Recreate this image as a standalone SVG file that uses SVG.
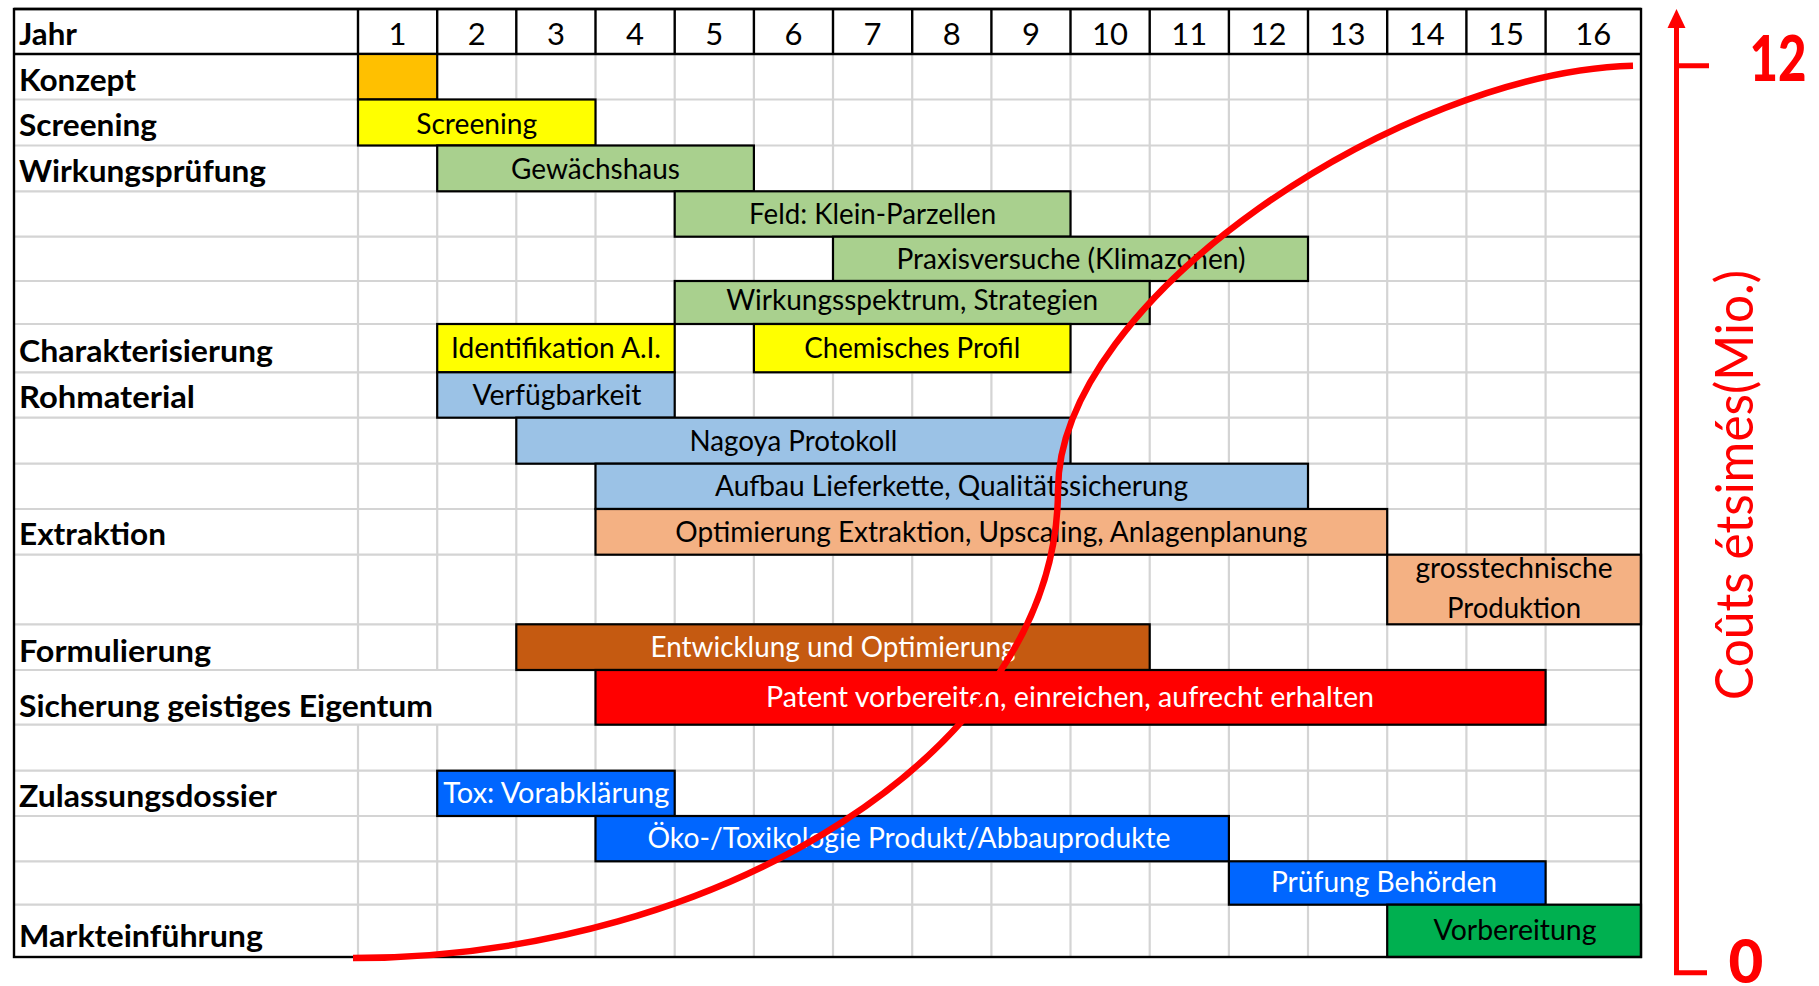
<svg xmlns="http://www.w3.org/2000/svg" width="1819" height="986" viewBox="0 0 1819 986">
<style>
.grid{stroke:#d4d4d4;stroke-width:2.2;fill:none}
.blk{stroke:#000;stroke-width:2.4;fill:none}
.bar{stroke:#000;stroke-width:2.2}
.lbl{font-family:Lato,"Liberation Sans",sans-serif;font-weight:bold;font-size:30px;fill:#000}
.hd{font-family:Lato,"Liberation Sans",sans-serif;font-size:31px;fill:#000;text-anchor:middle}
.bt{font-family:Lato,"Liberation Sans",sans-serif;font-size:29px;fill:#000;text-anchor:middle}
.wt{fill:#fff}
.red{fill:#ff0000}
</style>
<rect x="0" y="0" width="1819" height="986" fill="#fff"/>
<g id="grid">
  <path class="grid" d="M14,99.5H1641M14,145.5H1641M14,191.3H1641M14,236.7H1641M14,281H1641M14,324H1641M14,372.3H1641M14,417.7H1641M14,463.7H1641M14,509H1641M14,554.7H1641M14,624.3H1641M14,670H1641M14,724.7H1641M14,770.7H1641M14,816H1641M14,861.3H1641M14,904.7H1641"/>
  <path class="grid" d="M358,54V670M358,724.7V957M437.2,54V670M437.2,724.7V957M516.3,54V957M595.5,54V957M674.7,54V957M753.9,54V957M833,54V957M912.2,54V957M991.4,54V957M1070.5,54V957M1149.7,54V957M1228.9,54V957M1308,54V957M1387.2,54V957M1466.4,54V957M1545.6,54V957"/>
</g>
<g id="labels">
  <text class="lbl" x="19" y="44.5" textLength="58" lengthAdjust="spacingAndGlyphs">Jahr</text>
  <text class="lbl" x="19" y="90.5" textLength="117" lengthAdjust="spacingAndGlyphs">Konzept</text>
  <text class="lbl" x="19" y="135.5" textLength="138" lengthAdjust="spacingAndGlyphs">Screening</text>
  <text class="lbl" x="19" y="181.5" textLength="247" lengthAdjust="spacingAndGlyphs">Wirkungsprüfung</text>
  <text class="lbl" x="19" y="361.5" textLength="254" lengthAdjust="spacingAndGlyphs">Charakterisierung</text>
  <text class="lbl" x="19" y="408.3" textLength="176" lengthAdjust="spacingAndGlyphs">Rohmaterial</text>
  <text class="lbl" x="19" y="545" textLength="147" lengthAdjust="spacingAndGlyphs">Extraktion</text>
  <text class="lbl" x="19" y="661.5" textLength="192" lengthAdjust="spacingAndGlyphs">Formulierung</text>
  <text class="lbl" x="19" y="716.5" textLength="414" lengthAdjust="spacingAndGlyphs">Sicherung geistiges Eigentum</text>
  <text class="lbl" x="19" y="806.5" textLength="258" lengthAdjust="spacingAndGlyphs">Zulassungsdossier</text>
  <text class="lbl" x="19" y="946.5" textLength="244" lengthAdjust="spacingAndGlyphs">Markteinführung</text>
</g>
<g id="header">
  <path class="blk" d="M14,9H1641M14,54H1641M358,9V54M437.2,9V54M516.3,9V54M595.5,9V54M674.7,9V54M753.9,9V54M833,9V54M912.2,9V54M991.4,9V54M1070.5,9V54M1149.7,9V54M1228.9,9V54M1308,9V54M1387.2,9V54M1466.4,9V54M1545.6,9V54"/>
  <text class="hd" x="397.6" y="45">1</text>
  <text class="hd" x="476.8" y="45">2</text>
  <text class="hd" x="555.9" y="45">3</text>
  <text class="hd" x="635.1" y="45">4</text>
  <text class="hd" x="714.3" y="45">5</text>
  <text class="hd" x="793.5" y="45">6</text>
  <text class="hd" x="872.6" y="45">7</text>
  <text class="hd" x="951.8" y="45">8</text>
  <text class="hd" x="1031" y="45">9</text>
  <text class="hd" x="1110.1" y="45">10</text>
  <text class="hd" x="1189.3" y="45">11</text>
  <text class="hd" x="1268.5" y="45">12</text>
  <text class="hd" x="1347.6" y="45">13</text>
  <text class="hd" x="1426.8" y="45">14</text>
  <text class="hd" x="1506" y="45">15</text>
  <text class="hd" x="1593.3" y="45">16</text>
</g>
<g id="bar-konzept"><rect class="bar" x="358" y="54" width="79.2" height="45.5" fill="#ffc000"/></g>
<g id="bar-screening"><rect class="bar" x="358" y="99.5" width="237.5" height="46" fill="#ffff00"/><text class="bt" x="476.7" y="133.5" textLength="121" lengthAdjust="spacingAndGlyphs">Screening</text></g>
<g id="bar-gewaechshaus"><rect class="bar" x="437.2" y="145.5" width="316.7" height="45.8" fill="#a9d08e"/><text class="bt" x="595.5" y="178.5" textLength="169" lengthAdjust="spacingAndGlyphs">Gewächshaus</text></g>
<g id="bar-feld"><rect class="bar" x="674.7" y="191.3" width="395.8" height="45.4" fill="#a9d08e"/><text class="bt" x="872.6" y="223.5" textLength="247" lengthAdjust="spacingAndGlyphs">Feld: Klein-Parzellen</text></g>
<g id="bar-praxis"><rect class="bar" x="833" y="236.7" width="475" height="44.3" fill="#a9d08e"/><text class="bt" x="1071" y="268.5" textLength="349" lengthAdjust="spacingAndGlyphs">Praxisversuche (Klimazonen)</text></g>
<g id="bar-wirkungsspektrum"><rect class="bar" x="674.7" y="281" width="475" height="43" fill="#a9d08e"/><text class="bt" x="912.2" y="310" textLength="372" lengthAdjust="spacingAndGlyphs">Wirkungsspektrum, Strategien</text></g>
<g id="bar-identifikation"><rect class="bar" x="437.2" y="324" width="237.5" height="48.3" fill="#ffff00"/><text class="bt" x="556" y="357.5" textLength="210" lengthAdjust="spacingAndGlyphs">Identifikation A.I.</text></g>
<g id="bar-chemisch"><rect class="bar" x="753.9" y="324" width="316.6" height="48.3" fill="#ffff00"/><text class="bt" x="912.2" y="357.5" textLength="216" lengthAdjust="spacingAndGlyphs">Chemisches Profil</text></g>
<g id="bar-verfuegbarkeit"><rect class="bar" x="437.2" y="372.3" width="237.5" height="45.4" fill="#9bc2e6"/><text class="bt" x="557" y="405" textLength="169" lengthAdjust="spacingAndGlyphs">Verfügbarkeit</text></g>
<g id="bar-nagoya"><rect class="bar" x="516.3" y="417.7" width="554.2" height="46" fill="#9bc2e6"/><text class="bt" x="793.4" y="451" textLength="208" lengthAdjust="spacingAndGlyphs">Nagoya Protokoll</text></g>
<g id="bar-aufbau"><rect class="bar" x="595.5" y="463.7" width="712.5" height="45.3" fill="#9bc2e6"/><text class="bt" x="951.5" y="495.7" textLength="473" lengthAdjust="spacingAndGlyphs">Aufbau Lieferkette, Qualitätssicherung</text></g>
<g id="bar-optimierung"><rect class="bar" x="595.5" y="509" width="791.7" height="45.7" fill="#f4b183"/><text class="bt" x="991.3" y="541.7" textLength="632" lengthAdjust="spacingAndGlyphs">Optimierung Extraktion, Upscaling, Anlagenplanung</text></g>
<g id="bar-grosstechnisch"><rect class="bar" x="1387.2" y="554.7" width="253.8" height="69.6" fill="#f4b183"/><text class="bt" x="1514" y="578.3" textLength="197" lengthAdjust="spacingAndGlyphs">grosstechnische</text><text class="bt" x="1514" y="618.3" textLength="134" lengthAdjust="spacingAndGlyphs">Produktion</text></g>
<g id="bar-entwicklung"><rect class="bar" x="516.3" y="624.3" width="633.4" height="45.7" fill="#c55a11"/><text class="bt wt" x="833" y="657" textLength="365" lengthAdjust="spacingAndGlyphs">Entwicklung und Optimierung</text></g>
<g id="bar-patent"><rect class="bar" x="595.5" y="670" width="950.1" height="54.7" fill="#ff0000"/><text class="bt wt" x="1070" y="706.7" textLength="608" lengthAdjust="spacingAndGlyphs">Patent vorbereiten, einreichen, aufrecht erhalten</text></g>
<g id="bar-tox"><rect class="bar" x="437.2" y="770.7" width="237.5" height="45.3" fill="#0066ff"/><text class="bt wt" x="443.3" y="803.3" style="text-anchor:start" textLength="226" lengthAdjust="spacingAndGlyphs">Tox: Vorabklärung</text></g>
<g id="bar-oeko"><rect class="bar" x="595.5" y="816" width="633.4" height="45.3" fill="#0066ff"/><text class="bt wt" x="909" y="848.3" textLength="523" lengthAdjust="spacingAndGlyphs">Öko-/Toxikologie Produkt/Abbauprodukte</text></g>
<g id="bar-pruefung"><rect class="bar" x="1228.9" y="861.3" width="316.7" height="43.4" fill="#0066ff"/><text class="bt wt" x="1384" y="891.7" textLength="226" lengthAdjust="spacingAndGlyphs">Prüfung Behörden</text></g>
<g id="bar-vorbereitung"><rect class="bar" x="1387.2" y="904.7" width="253.8" height="52.3" fill="#00b050"/><text class="bt" x="1515" y="940" textLength="163" lengthAdjust="spacingAndGlyphs">Vorbereitung</text></g>
<g id="frame"><rect class="blk" x="14" y="9" width="1627" height="948"/></g>
<g id="connectors">
  <path d="M353,958 C720,958 1058,750 1058,490 C1058,300 1400,72 1633,65.7" fill="none" stroke="#ff0000" stroke-width="6.5"/>
  <path d="M1676.5,26 V972.7 H1707 M1676.5,65.7 H1709" fill="none" stroke="#ff0000" stroke-width="5"/>
  <polygon points="1676.5,9 1667.5,28 1685.5,28" fill="#ff0000"/>
</g>
<g id="axis-labels">
  <text class="red" x="1778" y="81" font-family="Lato,'Liberation Sans',sans-serif" font-weight="900" font-size="62" text-anchor="middle" textLength="57" lengthAdjust="spacingAndGlyphs">12</text>
  <text class="red" x="1746" y="983" font-family="Lato,'Liberation Sans',sans-serif" font-weight="900" font-size="60" text-anchor="middle">0</text>
  <text class="red" transform="translate(1753,485) rotate(-90)" x="0" y="0" font-family="Lato,'Liberation Sans',sans-serif" font-size="53" text-anchor="middle" textLength="430" lengthAdjust="spacingAndGlyphs">Coûts étsimés(Mio.)</text>
</g>
</svg>
